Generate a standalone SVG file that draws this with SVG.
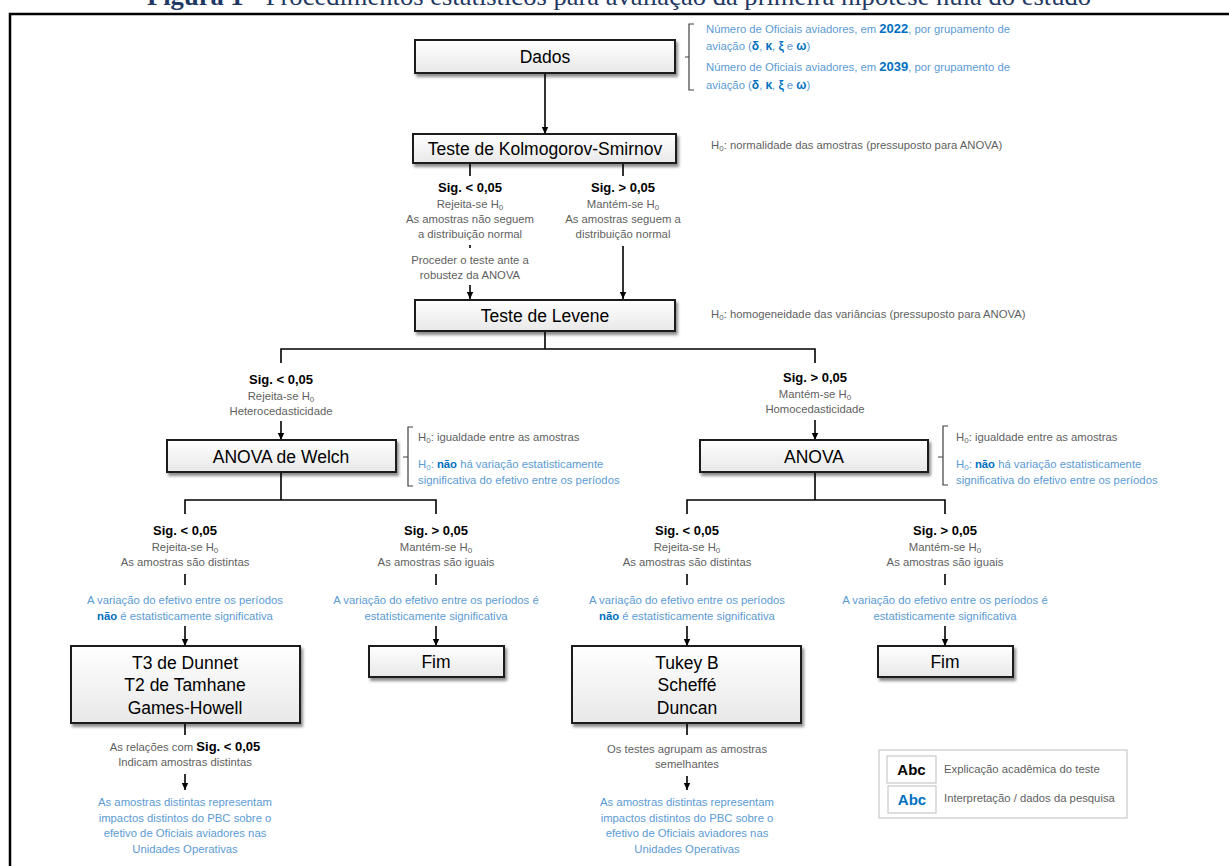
<svg xmlns="http://www.w3.org/2000/svg" width="1229" height="866" viewBox="0 0 1229 866">
  <defs>
    <linearGradient id="boxFill" x1="0" y1="0" x2="0" y2="1">
      <stop offset="0" stop-color="#ffffff"/>
      <stop offset="1" stop-color="#e8e8e8"/>
    </linearGradient>
    <filter id="shadow" x="-10%" y="-20%" width="125%" height="160%">
      <feDropShadow dx="2" dy="3" stdDeviation="1.6" flood-color="#000" flood-opacity="0.45"/>
    </filter>
    <marker id="arrow" markerUnits="userSpaceOnUse" markerWidth="8" markerHeight="8" refX="7" refY="4" orient="auto">
      <path d="M0,0.8 L7,4 L0,7.2 z" fill="#000"/>
    </marker>
    <style>
      .box { fill: url(#boxFill); stroke: #1a1a1a; stroke-width: 2; filter: url(#shadow); }
      .lbl { font-family: "Liberation Sans", Arial, sans-serif; font-size: 17.5px; fill: #000; text-anchor: middle; }
      .sig { font-family: "Liberation Sans", Arial, sans-serif; font-size: 13px; font-weight: bold; fill: #000; text-anchor: middle; }
      .g { font-family: "Liberation Sans", Arial, sans-serif; font-size: 11.3px; fill: #5f5f5f; }
      .c { text-anchor: middle; }
      .b { font-family: "Liberation Sans", Arial, sans-serif; font-size: 11.3px; fill: #5b9bd5; }
      .nb { font-weight: bold; fill: #0070c0; }
      .sub { font-size: 8px; }
      .wire { fill: none; stroke: #000; stroke-width: 1.6; }
      .arr { fill: none; stroke: #000; stroke-width: 1.6; marker-end: url(#arrow); }
      .brace { fill: none; stroke: #404040; stroke-width: 1.2; }
      .legend { fill: #fff; stroke: #c8c8c8; stroke-width: 1.2; }
    </style>
  </defs>

  <rect width="1229" height="866" fill="#fff"/>

  <!-- caption, partly above the top edge -->
  <text x="619" y="5" font-family="Liberation Serif, 'Times New Roman', serif" font-size="25" fill="#1f3864" text-anchor="middle" textLength="944" lengthAdjust="spacingAndGlyphs"><tspan font-weight="bold">Figura 1</tspan> - Procedimentos estatísticos para avaliação da primeira hipótese nula do estudo</text>

  <!-- outer frame -->
  <rect x="10" y="14" width="1240" height="880" fill="none" stroke="#000" stroke-width="2.5"/>

  <!-- connectors -->
  <g id="connectors">
    <path class="arr" d="M545,73 V134"/>
    <path class="wire" d="M470,162 V176 M623,162 V176"/>
    <path class="wire" d="M470,245 V248" stroke-width="1"/>
    <path class="arr" d="M470,285 V299"/>
    <path class="arr" d="M623,246 V299"/>
    <path class="wire" d="M545,331 V349 M281,363 V349 H815 V363"/>
    <path class="arr" d="M281,421 V440"/>
    <path class="arr" d="M815,420 V440"/>
    <path class="wire" d="M281,472 V500 M185,514 V500 H436 V514"/>
    <path class="wire" d="M815,472 V500 M687,514 V500 H945 V514"/>
    <path class="wire" d="M185,574 V585 M436,574 V585 M687,574 V585 M945,574 V585"/>
    <path class="arr" d="M185,626 V646"/>
    <path class="arr" d="M436,626 V646"/>
    <path class="arr" d="M687,626 V646"/>
    <path class="arr" d="M945,626 V646"/>
    <path class="wire" d="M185,723 V735 M687,723 V735"/>
    <path class="arr" d="M185,774 V790"/>
    <path class="arr" d="M687,776 V790"/>
    <!-- braces -->
    <path class="brace" d="M694,24 H689 V90 H694 M689,57 H685"/>
    <path class="brace" d="M413,427 H408 V486 H413 M408,457 H403"/>
    <path class="brace" d="M948,426 H943 V485 H948 M943,457 H938"/>
  </g>

  <!-- data -->
  <g id="dados">
    <rect class="box" x="415" y="40" width="260" height="33"/>
    <text class="lbl" x="545" y="63">Dados</text>
    <text class="b" x="706" y="33">Número de Oficiais aviadores, em <tspan class="nb" font-size="13">2022</tspan>, por grupamento de</text>
    <text class="b" x="706" y="50">aviação (<tspan class="nb" font-size="12">δ</tspan>, <tspan class="nb" font-size="12">κ</tspan>, <tspan class="nb" font-size="12">ξ</tspan> e <tspan class="nb" font-size="12">ω</tspan>)</text>
    <text class="b" x="706" y="71">Número de Oficiais aviadores, em <tspan class="nb" font-size="13">2039</tspan>, por grupamento de</text>
    <text class="b" x="706" y="89">aviação (<tspan class="nb" font-size="12">δ</tspan>, <tspan class="nb" font-size="12">κ</tspan>, <tspan class="nb" font-size="12">ξ</tspan> e <tspan class="nb" font-size="12">ω</tspan>)</text>
  </g>

  <g id="ks">
    <rect class="box" x="413" y="134" width="263" height="29"/>
    <text class="lbl" x="545" y="155">Teste de Kolmogorov-Smirnov</text>
    <text class="g" x="711" y="149">H<tspan class="sub" dy="2">0</tspan><tspan dy="-2">: normalidade das amostras (pressuposto para ANOVA)</tspan></text>
  </g>

  <g id="ks-reject">
    <text class="sig" x="470" y="192">Sig. &lt; 0,05</text>
    <text class="g c" x="470" y="208">Rejeita-se H<tspan class="sub" dy="2">0</tspan></text>
    <text class="g c" x="470" y="223">As amostras não seguem</text>
    <text class="g c" x="470" y="238">a distribuição normal</text>
    <text class="g c" x="470" y="264">Proceder o teste ante a</text>
    <text class="g c" x="470" y="279">robustez da ANOVA</text>
  </g>

  <g id="ks-keep">
    <text class="sig" x="623" y="192">Sig. &gt; 0,05</text>
    <text class="g c" x="623" y="208">Mantém-se H<tspan class="sub" dy="2">0</tspan></text>
    <text class="g c" x="623" y="223">As amostras seguem a</text>
    <text class="g c" x="623" y="238">distribuição normal</text>
  </g>

  <g id="levene">
    <rect class="box" x="415" y="300" width="260" height="31"/>
    <text class="lbl" x="545" y="322">Teste de Levene</text>
    <text class="g" x="711" y="318">H<tspan class="sub" dy="2">0</tspan><tspan dy="-2">: homogeneidade das variâncias (pressuposto para ANOVA)</tspan></text>
  </g>

  <g id="levene-reject">
    <text class="sig" x="281" y="384">Sig. &lt; 0,05</text>
    <text class="g c" x="281" y="400">Rejeita-se H<tspan class="sub" dy="2">0</tspan></text>
    <text class="g c" x="281" y="415">Heterocedasticidade</text>
  </g>

  <g id="levene-keep">
    <text class="sig" x="815" y="382">Sig. &gt; 0,05</text>
    <text class="g c" x="815" y="398">Mantém-se H<tspan class="sub" dy="2">0</tspan></text>
    <text class="g c" x="815" y="413">Homocedasticidade</text>
  </g>

  <g id="welch">
    <rect class="box" x="167" y="440" width="229" height="32"/>
    <text class="lbl" x="281" y="463">ANOVA de Welch</text>
    <text class="g" x="418" y="441">H<tspan class="sub" dy="2">0</tspan><tspan dy="-2">: igualdade entre as amostras</tspan></text>
    <text class="b" x="418" y="468">H<tspan class="sub" dy="2">0</tspan><tspan dy="-2">: </tspan><tspan class="nb">não</tspan> há variação estatisticamente</text>
    <text class="b" x="418" y="484">significativa do efetivo entre os períodos</text>
  </g>

  <g id="anova">
    <rect class="box" x="700" y="440" width="228" height="32"/>
    <text class="lbl" x="814" y="463">ANOVA</text>
    <text class="g" x="956" y="441">H<tspan class="sub" dy="2">0</tspan><tspan dy="-2">: igualdade entre as amostras</tspan></text>
    <text class="b" x="956" y="468">H<tspan class="sub" dy="2">0</tspan><tspan dy="-2">: </tspan><tspan class="nb">não</tspan> há variação estatisticamente</text>
    <text class="b" x="956" y="484">significativa do efetivo entre os períodos</text>
  </g>

  <!-- Welch branches -->
  <g id="welch-reject">
    <text class="sig" x="185" y="535">Sig. &lt; 0,05</text>
    <text class="g c" x="185" y="551">Rejeita-se H<tspan class="sub" dy="2">0</tspan></text>
    <text class="g c" x="185" y="566">As amostras são distintas</text>
    <text class="b c" x="185" y="604">A variação do efetivo entre os períodos</text>
    <text class="b c" x="185" y="620"><tspan class="nb">não</tspan> é estatisticamente significativa</text>
  </g>

  <g id="welch-keep">
    <text class="sig" x="436" y="535">Sig. &gt; 0,05</text>
    <text class="g c" x="436" y="551">Mantém-se H<tspan class="sub" dy="2">0</tspan></text>
    <text class="g c" x="436" y="566">As amostras são iguais</text>
    <text class="b c" x="436" y="604">A variação do efetivo entre os períodos é</text>
    <text class="b c" x="436" y="620">estatisticamente significativa</text>
  </g>

  <g id="posthoc-welch">
    <rect class="box" x="71" y="646" width="229" height="77"/>
    <text class="lbl" x="185" y="669">T3 de Dunnet</text>
    <text class="lbl" x="185" y="691">T2 de Tamhane</text>
    <text class="lbl" x="185" y="714">Games-Howell</text>
  </g>

  <g id="fim-welch">
    <rect class="box" x="369" y="646" width="135" height="31"/>
    <text class="lbl" x="436" y="668">Fim</text>
  </g>

  <g id="welch-result">
    <text class="g c" x="185" y="751">As relações com <tspan font-weight="bold" font-size="13" fill="#000">Sig. &lt; 0,05</tspan></text>
    <text class="g c" x="185" y="766">Indicam amostras distintas</text>
    <text class="b c" x="185" y="806">As amostras distintas representam</text>
    <text class="b c" x="185" y="822">impactos distintos do PBC sobre o</text>
    <text class="b c" x="185" y="837">efetivo de Oficiais aviadores nas</text>
    <text class="b c" x="185" y="853">Unidades Operativas</text>
  </g>

  <!-- ANOVA branches -->
  <g id="anova-reject">
    <text class="sig" x="687" y="535">Sig. &lt; 0,05</text>
    <text class="g c" x="687" y="551">Rejeita-se H<tspan class="sub" dy="2">0</tspan></text>
    <text class="g c" x="687" y="566">As amostras são distintas</text>
    <text class="b c" x="687" y="604">A variação do efetivo entre os períodos</text>
    <text class="b c" x="687" y="620"><tspan class="nb">não</tspan> é estatisticamente significativa</text>
  </g>

  <g id="anova-keep">
    <text class="sig" x="945" y="535">Sig. &gt; 0,05</text>
    <text class="g c" x="945" y="551">Mantém-se H<tspan class="sub" dy="2">0</tspan></text>
    <text class="g c" x="945" y="566">As amostras são iguais</text>
    <text class="b c" x="945" y="604">A variação do efetivo entre os períodos é</text>
    <text class="b c" x="945" y="620">estatisticamente significativa</text>
  </g>

  <g id="posthoc-anova">
    <rect class="box" x="572" y="646" width="229" height="77"/>
    <text class="lbl" x="687" y="669">Tukey B</text>
    <text class="lbl" x="687" y="691">Scheffé</text>
    <text class="lbl" x="687" y="714">Duncan</text>
  </g>

  <g id="fim-anova">
    <rect class="box" x="878" y="646" width="135" height="31"/>
    <text class="lbl" x="945" y="668">Fim</text>
  </g>

  <g id="anova-result">
    <text class="g c" x="687" y="753">Os testes agrupam as amostras</text>
    <text class="g c" x="687" y="768">semelhantes</text>
    <text class="b c" x="687" y="806">As amostras distintas representam</text>
    <text class="b c" x="687" y="822">impactos distintos do PBC sobre o</text>
    <text class="b c" x="687" y="837">efetivo de Oficiais aviadores nas</text>
    <text class="b c" x="687" y="853">Unidades Operativas</text>
  </g>

  <!-- key -->
  <g id="legend">
    <rect class="legend" x="879" y="750" width="248" height="68"/>
    <rect class="legend" x="887" y="756" width="49" height="27"/>
    <rect class="legend" x="888" y="786" width="48" height="27"/>
    <text x="911.5" y="775" font-family="Liberation Sans, Arial, sans-serif" font-size="15" font-weight="bold" fill="#000" text-anchor="middle">Abc</text>
    <text x="912" y="805" font-family="Liberation Sans, Arial, sans-serif" font-size="15" font-weight="bold" fill="#0070c0" text-anchor="middle">Abc</text>
    <text class="g" x="944" y="773">Explicação acadêmica do teste</text>
    <text class="g" x="944" y="802">Interpretação / dados da pesquisa</text>
  </g>
</svg>
